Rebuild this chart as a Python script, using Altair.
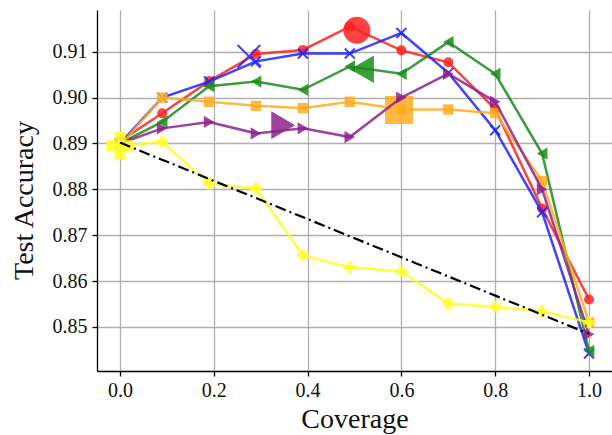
import altair as alt
import pandas as pd

# Coverage levels shared by every method
coverage = [0.0, 0.09, 0.19, 0.29, 0.39, 0.49, 0.60, 0.70, 0.80, 0.90, 1.0]

# Test accuracy per method at each coverage level
acc_red = [0.8905, 0.8966, 0.9036, 0.9095, 0.9104, 0.9155, 0.9103, 0.9077, 0.8975, 0.8758, 0.8560]
acc_blue = [0.8900, 0.9000, 0.9035, 0.9079, 0.9096, 0.9096, 0.9141, 0.9054, 0.8929, 0.8750, 0.8442]
acc_green = [0.8900, 0.8947, 0.9025, 0.9035, 0.9017, 0.9068, 0.9052, 0.9121, 0.9052, 0.8878, 0.8448]
acc_orange = [0.8895, 0.9000, 0.8991, 0.8982, 0.8977, 0.8991, 0.8974, 0.8974, 0.8966, 0.8818, 0.8510]
acc_purple = [0.8900, 0.8933, 0.8947, 0.8922, 0.8933, 0.8914, 0.9000, 0.9052, 0.8991, 0.8800, 0.8484]
acc_yellow = [0.8895, 0.8903, 0.8812, 0.8802, 0.8656, 0.8630, 0.8621, 0.8551, 0.8544, 0.8534, 0.8510]

# Random-rejection reference line
baseline_cov = [0.0, 1.0]
baseline_acc = [0.8902, 0.8485]

# Selected operating point of each method (coverage, accuracy)
pick_cov = [0.505, 0.275, 0.516, 0.595, 0.348, 0.0]
pick_acc = [0.9147, 0.9090, 0.9062, 0.8973, 0.8940, 0.8895]

X_SHAPE = "M-1,-1L1,1M-1,1L1,-1"

styles = [
    # (values, colour, shape, filled, small size, big size)
    (acc_red, "#ff2222", "circle", True, 100, 729),
    (acc_blue, "#2222ff", X_SHAPE, False, 100, 520),
    (acc_green, "#1a8c1a", "triangle-left", True, 150, 760),
    (acc_orange, "#ffad22", "square", True, 110, 784),
    (acc_purple, "#8c228c", "triangle-right", True, 150, 760),
    (acc_yellow, "#ffff22", "cross", True, 140, 760),
]

x_scale = alt.Scale(domain=[-0.049, 1.049], nice=False, zero=False)
y_scale = alt.Scale(domain=[0.8404, 0.9191], nice=False, zero=False)

x_axis = alt.Axis(
    values=[0.0, 0.2, 0.4, 0.6, 0.8, 1.0], format=".1f", title="Coverage",
    tickSize=5, labelPadding=4, titleBaseline="alphabetic", titleY=56,
)
y_axis = alt.Axis(
    values=[0.85, 0.86, 0.87, 0.88, 0.89, 0.90, 0.91], format=".2f",
    title="Test Accuracy", tickSize=5, labelPadding=5,
    titleBaseline="alphabetic", titleX=-65, titleY=190, titleAngle=-90,
    titleAlign="center",
)


def xy():
    return dict(
        x=alt.X("cov:Q", scale=x_scale, axis=x_axis),
        y=alt.Y("acc:Q", scale=y_scale, axis=y_axis),
    )


layers = []
for i, (vals, color, shape, filled, small, big) in enumerate(styles):
    df = pd.DataFrame({"cov": coverage, "acc": vals})
    line = alt.Chart(df).mark_line(color=color, strokeWidth=2.5, opacity=0.85).encode(**xy())
    hi_df = pd.DataFrame({"cov": [pick_cov[i]], "acc": [pick_acc[i]]})
    if filled:
        pts = alt.Chart(df).mark_point(
            shape=shape, filled=True, color=color, size=small, opacity=0.85
        ).encode(**xy())
        hi = alt.Chart(hi_df).mark_point(
            shape=shape, filled=True, color=color, size=big, opacity=0.85
        ).encode(**xy())
    else:
        pts = alt.Chart(df).mark_point(
            shape=shape, filled=False, stroke=color, strokeWidth=2, size=small, opacity=0.85
        ).encode(**xy())
        hi = alt.Chart(hi_df).mark_point(
            shape=shape, filled=False, stroke=color, strokeWidth=2, size=big, opacity=0.85
        ).encode(**xy())
    layers += [line, pts, hi]

base_df = pd.DataFrame({"cov": baseline_cov, "acc": baseline_acc})
layers.append(
    alt.Chart(base_df).mark_line(color="black", strokeWidth=2.2, strokeDash=[11, 4, 2, 4]).encode(**xy())
)

chart = alt.layer(*layers).properties(
    width=515,
    height=361,
    padding={"left": 97, "top": 10, "right": 0, "bottom": 64},
    autosize=alt.AutoSizeParams(type="none"),
).configure_view(stroke=None).configure_axis(
    domainColor="black", domainWidth=1.3,
    gridColor="#b0b0b0", gridWidth=1.3,
    tickColor="black", tickWidth=1.3,
    labelFont="Liberation Serif", labelFontSize=20, labelColor="#111111",
    titleFont="Liberation Serif", titleFontSize=28, titleFontWeight="normal", titleColor="#111111",
)

chart.save("out.html", embed_options={"renderer": "svg", "actions": False})
